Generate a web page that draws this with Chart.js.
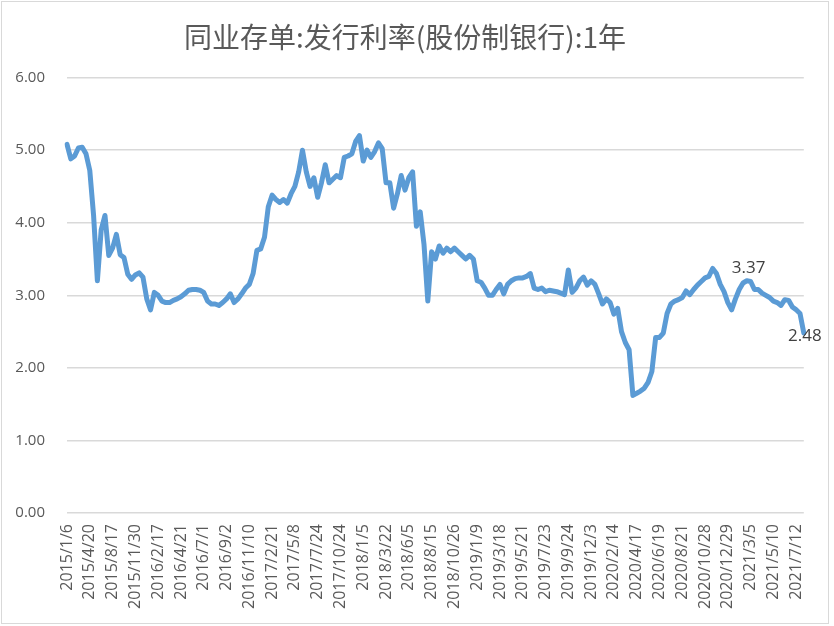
<!DOCTYPE html>
<html>
<head>
<meta charset="utf-8">
<title>同业存单:发行利率(股份制银行):1年</title>
<script src="https://cdn.jsdelivr.net/npm/chart.js@4.4.0/dist/chart.umd.min.js"></script>
<style>
    html, body { margin: 0; padding: 0; background: #fff; }
    #wrap { position: relative; width: 834px; height: 626px; }
    #frame {
        position: absolute; left: 1px; top: 1px; width: 826px; height: 621px;
        border: 1px solid #d9d9d9; pointer-events: none;
    }
</style>
</head>
<body>
<div id="wrap">
    <canvas id="chart-rate" width="834" height="626"></canvas>
    <div id="frame"></div>
</div>
<script>
'use strict';

// tick labels shown under the axis (one every 6 points)
const tickLabels = [
    '2015/1/6', '2015/4/20', '2015/8/17', '2015/11/30',
    '2016/2/17', '2016/4/21', '2016/7/1', '2016/9/2', '2016/11/10',
    '2017/2/21', '2017/5/8', '2017/7/24', '2017/10/24',
    '2018/1/5', '2018/3/22', '2018/6/5', '2018/8/15', '2018/10/26',
    '2019/1/9', '2019/3/18', '2019/5/21', '2019/7/23', '2019/9/24', '2019/12/3',
    '2020/2/14', '2020/4/17', '2020/6/19', '2020/8/21', '2020/10/28', '2020/12/29',
    '2021/3/5', '2021/5/10', '2021/7/12'
];

// rate, one row per tick interval
const rates = [
    5.08, 4.88, 4.92, 5.03, 5.04, 4.95,
    4.72, 4.10, 3.20, 3.90, 4.10, 3.55,
    3.65, 3.84, 3.56, 3.52, 3.29, 3.22,
    3.28, 3.31, 3.25, 2.95, 2.80, 3.04,
    3.00, 2.92, 2.90, 2.90, 2.93, 2.95,
    2.98, 3.02, 3.07, 3.08, 3.08, 3.07,
    3.04, 2.92, 2.88, 2.88, 2.86, 2.90,
    2.95, 3.02, 2.90, 2.95, 3.02, 3.10,
    3.15, 3.30, 3.62, 3.64, 3.80, 4.22,
    4.38, 4.32, 4.28, 4.32, 4.27, 4.40,
    4.50, 4.70, 5.00, 4.70, 4.50, 4.62,
    4.35, 4.55, 4.80, 4.55, 4.60, 4.65,
    4.62, 4.90, 4.92, 4.95, 5.12, 5.20,
    4.85, 5.00, 4.90, 4.98, 5.10, 5.02,
    4.55, 4.55, 4.20, 4.40, 4.65, 4.45,
    4.62, 4.70, 3.95, 4.15, 3.70, 2.92,
    3.60, 3.50, 3.68, 3.58, 3.65, 3.60,
    3.65, 3.60, 3.55, 3.50, 3.55, 3.50,
    3.20, 3.18, 3.10, 3.00, 3.00, 3.08,
    3.15, 3.02, 3.15, 3.20, 3.23, 3.24,
    3.24, 3.26, 3.30, 3.10, 3.08, 3.10,
    3.05, 3.07, 3.06, 3.05, 3.03, 3.01,
    3.35, 3.04, 3.10, 3.20, 3.25, 3.14,
    3.20, 3.15, 3.02, 2.88, 2.95, 2.90,
    2.74, 2.82, 2.50, 2.35, 2.25, 1.62,
    1.65, 1.68, 1.72, 1.80, 1.95, 2.42,
    2.42, 2.48, 2.75, 2.88, 2.92, 2.94,
    2.97, 3.06, 3.01, 3.08, 3.14, 3.19,
    3.24, 3.26, 3.37, 3.30, 3.15, 3.05,
    2.90, 2.80, 2.95, 3.08, 3.17, 3.20,
    3.19, 3.08, 3.08, 3.03, 3.00, 2.97,
    2.92, 2.90, 2.86, 2.94, 2.93, 2.84,
    2.80, 2.75, 2.48
];

// points carrying a value label
const markedIndex = [170, 194];
const markedText = ['3.37', '2.48'];

const yTicks = [0, 1, 2, 3, 4, 5, 6];

const POINTS_PER_TICK = 6;
const GREY = '#595959';

// category list: a date every 6 points, blanks between
const labels = [];
tickLabels.forEach(t => {
    labels.push(t);
    for (let j = 1; j < POINTS_PER_TICK; j++) labels.push('');
});
labels.length = rates.length;

const markLabels = {
    id: 'markLabels',
    afterDatasetsDraw(chart) {
        const ctx = chart.ctx;
        const xs = chart.scales.x;
        const ys = chart.scales.y;
        const offsets = [[36, 0], [1, 3]];
        ctx.save();
        ctx.font = '17px "Open Sans"';
        ctx.fillStyle = '#404040';
        ctx.textAlign = 'center';
        ctx.textBaseline = 'middle';
        markedIndex.forEach((idx, k) => {
            const px = xs.getPixelForValue(idx);
            const py = ys.getPixelForValue(rates[idx]);
            ctx.fillText(markedText[k], px + offsets[k][0], py + offsets[k][1]);
        });
        ctx.restore();
    }
};

new Chart(document.getElementById('chart-rate'), {
    type: 'line',
    data: {
        labels: labels,
        datasets: [{
            label: '同业存单:发行利率(股份制银行):1年',
            data: rates,
            borderColor: '#5b9bd5',
            borderWidth: 5,
            borderJoinStyle: 'round',
            borderCapStyle: 'round',
            pointRadius: 0,
            tension: 0,
            fill: false
        }]
    },
    options: {
        responsive: false,
        animation: false,
        layout: { padding: { left: 0, right: 24, top: 0, bottom: 0 } },
        plugins: {
            legend: { display: false },
            tooltip: { enabled: false },
            title: {
                display: true,
                text: '同业存单:发行利率(股份制银行):1年',
                color: GREY,
                font: { family: '"Noto Sans CJK SC"', size: 28, weight: 'normal', lineHeight: 1.2 },
                padding: { top: 21, bottom: 23 }
            }
        },
        scales: {
            x: {
                type: 'category',
                offset: false,
                grid: { display: false, drawTicks: false },
                border: { display: false },
                ticks: {
                    autoSkip: false,
                    minRotation: 90,
                    maxRotation: 90,
                    padding: 11,
                    color: GREY,
                    font: { family: '"Open Sans"', size: 16 }
                },
                afterFit(scale) { scale.height = 113; }
            },
            y: {
                min: 0,
                max: 6,
                afterBuildTicks(scale) { scale.ticks = yTicks.map(v => ({ value: v })); },
                grid: { color: '#d9d9d9', lineWidth: 1.5, drawTicks: false },
                border: { display: false },
                ticks: {
                    padding: 22,
                    color: GREY,
                    font: { family: '"Open Sans"', size: 15 },
                    callback: v => v.toFixed(2)
                },
                afterFit(scale) { scale.width = 67; }
            }
        }
    },
    plugins: [markLabels]
});
</script>
</body>
</html>
